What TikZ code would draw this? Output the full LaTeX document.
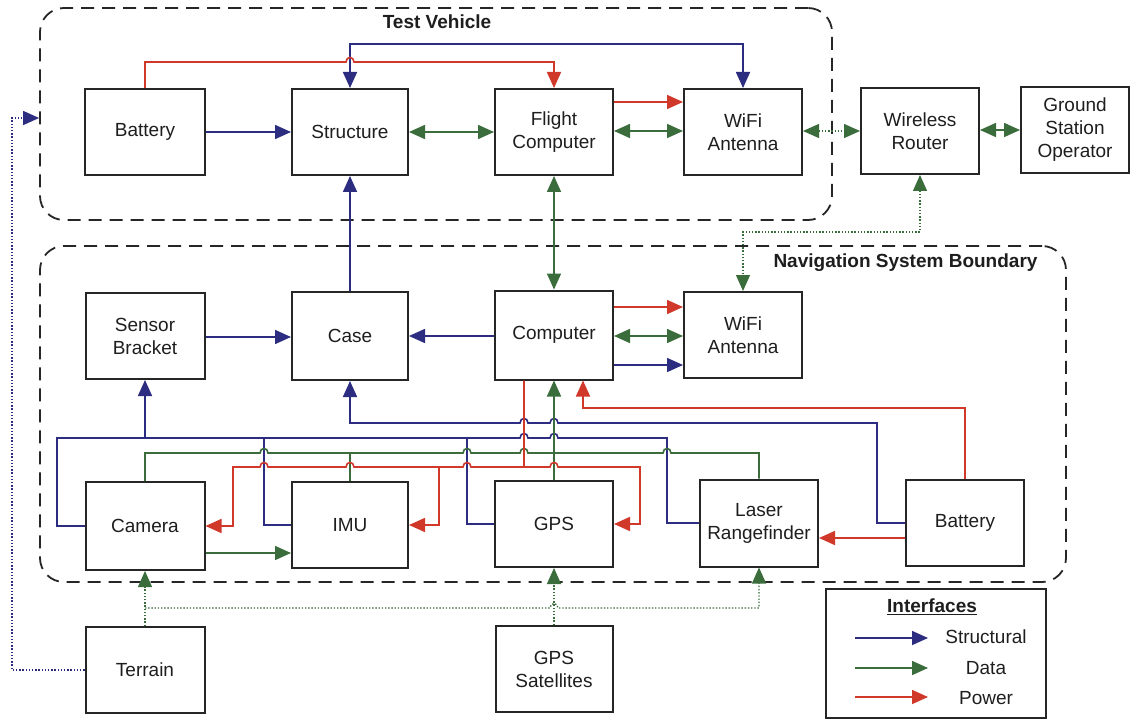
\documentclass[tikz,border=0pt]{standalone}
\usepackage{fontspec}
\setmainfont{Liberation Sans}
\usetikzlibrary{arrows.meta}
\definecolor{stc}{RGB}{44,44,128}
\definecolor{dtc}{RGB}{58,108,60}
\definecolor{pwc}{RGB}{208,56,42}
\definecolor{boxc}{RGB}{38,38,38}
\definecolor{txtc}{RGB}{30,30,30}
\begin{document}
\begin{tikzpicture}[x=1pt,y=-1pt,
  >={Triangle[length=16pt,width=14pt]},
  block/.style={draw=boxc,line width=2pt,fill=white,text=txtc,align=center,
    inner sep=0pt,minimum width=118pt,minimum height=86pt,
    font=\fontsize{19}{23}\selectfont},
  bound/.style={draw=boxc,line width=1.8pt,dash pattern=on 13pt off 8pt,
    rounded corners=24pt,inner sep=0pt},
  title/.style={text=txtc,font=\bfseries\fontsize{19}{23}\selectfont},
  label/.style={text=txtc,font=\fontsize{19}{23}\selectfont},
  st/.style={draw=stc,line width=1.6pt},
  dt/.style={draw=dtc,line width=1.6pt},
  pw/.style={draw=pwc,line width=1.6pt},
  dtdot/.style={dt,line width=1.3pt,dash pattern=on 1.4pt off 1.8pt},
  stdot/.style={st,line width=1.3pt,dash pattern=on 1.4pt off 1.8pt},
  % small bridge over a crossing vertical line, travelling right / left
  jumpr/.style args={#1/#2}{insert path={-- (#1-4,#2) .. controls (#1-4,#2-6) and (#1+4,#2-6) .. (#1+4,#2)}},
  jumpl/.style args={#1/#2}{insert path={-- (#1+4,#2) .. controls (#1+4,#2-6) and (#1-4,#2-6) .. (#1-4,#2)}},
]
\useasboundingbox (0,0) rectangle (1131,719);
\fill[white] (0,0) rectangle (1131,719);

% system boundaries
\node[bound,minimum width=792pt,minimum height=212pt] (tv) at (436,114) {};
\node[bound,minimum width=1026pt,minimum height=336pt] (nav) at (553,414) {};
\node[title] (tvt) at (437,22) {Test Vehicle};
\node[title,anchor=east] (navt) at (1041,263) {Navigation System Boundary};

% test vehicle
\node[block,minimum width=120pt] (bat1) at (145,132) {Battery};
\node[block,minimum width=116pt] (struct) at (350,132) {Structure};
\node[block] (fc) at (554,132) {Flight\\Computer};
\node[block] (wifi1) at (743,132) {WiFi\\Antenna};
\node[block] (router) at (920,131) {Wireless\\Router};
\node[block,minimum width=108pt] (gso) at (1075,130) {Ground\\Station\\Operator};

% navigation system
\node[block,minimum width=119pt] (sb) at (145,336) {Sensor\\Bracket};
\node[block,minimum width=116pt,minimum height=88pt] (case) at (350,336) {Case};
\node[block,minimum height=89pt] (comp) at (554,335) {Computer};
\node[block] (wifi2) at (743,335) {WiFi\\Antenna};
\node[block,minimum width=119pt,minimum height=88pt] (cam) at (145,526) {Camera};
\node[block,minimum width=116pt] (imu) at (350,525) {IMU};
\node[block] (gps) at (554,524) {GPS};
\node[block,minimum height=87pt] (laser) at (759,523) {Laser\\Rangefinder};
\node[block] (bat2) at (965,523) {Battery};

% environment
\node[block,minimum width=119pt] (terrain) at (145,670) {Terrain};
\node[block,minimum width=117pt] (gpssat) at (554,669) {GPS\\Satellites};

% --- test vehicle interfaces
\draw[st,->] (bat1.east) -- (struct.west);
\draw[dt,<->] (struct.east) -- (fc.west);
\draw[pw,->] (fc.east |- 0,102) -- (wifi1.west |- 0,102);
\draw[dt,<->] (fc.east |- 0,131) -- (wifi1.west |- 0,131);
\draw[dtdot,<->] (wifi1.east |- 0,131) -- (router.west |- 0,131);
\draw[dt,<->] (router.east |- 0,130) -- (gso.west |- 0,130);
\draw[st,<->] (struct.north) -- (350,44) -- (743,44) -- (wifi1.north);
\draw[pw,->] (bat1.north) -- (145,62) [jumpr=350/62] -- (554,62) -- (fc.north);
\draw[st,->] (case.north) -- (struct.south);
\draw[dt,<->] (fc.south) -- (comp.north);
\draw[dtdot,<->] (router.south) -- (920,232) -- (743,232) -- (wifi2.north);

% --- navigation system interfaces
\draw[st,->] (sb.east |- 0,337) -- (case.west |- 0,337);
\draw[st,->] (comp.west |- 0,336) -- (case.east |- 0,336);
\draw[pw,->] (comp.east |- 0,307) -- (wifi2.west |- 0,307);
\draw[dt,<->] (comp.east |- 0,336) -- (wifi2.west |- 0,336);
\draw[st,->] (comp.east |- 0,365) -- (wifi2.west |- 0,365);

% structural: battery to case
\draw[st,->] (bat2.west) -- (877,523) -- (877,423) [jumpl=554/423] [jumpl=524/423]
  -- (350,423) -- (case.south);
% structural: sensors to sensor bracket
\draw[st,->] (cam.west) -- (57,526) -- (57,438) -- (145,438) -- (sb.south);
\draw[st] (145,438) [jumpr=524/438] [jumpr=554/438] -- (667,438) -- (667,523) -- (laser.west);
\draw[st] (imu.west) -- (264,525) -- (264,438);
\draw[st] (gps.west) -- (467,524) -- (467,438);

% data: sensors to computer
\draw[dt] (cam.north) -- (145,453) [jumpr=264/453] [jumpr=467/453] [jumpr=524/453]
  [jumpr=667/453] -- (759,453) -- (laser.north);
\draw[dt] (imu.north) -- (350,453);
\draw[dt,->] (gps.north) -- (comp.south);
\draw[dt,->] (cam.east |- 0,553) -- (imu.west |- 0,553);

% power: computer to sensors
\draw[pw,->] (comp.south -| 524,0) -- (524,467) [jumpl=467/467] [jumpl=350/467]
  [jumpl=264/467] -- (233,467) -- (233,526) -- (cam.east);
\draw[pw,->] (439,467) -- (439,525) -- (imu.east);
\draw[pw,->] (524,467) [jumpr=554/467] -- (640,467) -- (640,524) -- (gps.east);
% power: battery
\draw[pw,->] (bat2.north) -- (965,408) -- (583,408) -- (comp.south -| 583,0);
\draw[pw,->] (bat2.west |- 0,538) -- (laser.east |- 0,538);

% --- environment interfaces
\draw[dtdot,->] (terrain.north) -- (cam.south);
\draw[dtdot,->] (145,608) [jumpr=554/608] -- (759,608) -- (laser.south);
\draw[dtdot,->] (gpssat.north) -- (gps.south);
\draw[stdot,->] (terrain.west) -- (12,670) -- (12,118) -- (tv.west |- 0,118);

% --- legend
\node[block,minimum width=220pt,minimum height=129pt] (leg) at (936,653) {};
\node[title] (legt) at (932,607) {\underline{Interfaces}};
\coordinate (ls1) at (855,638); \coordinate (le1) at (928,638);
\coordinate (ls2) at (855,668); \coordinate (le2) at (928,668);
\coordinate (ls3) at (855,697); \coordinate (le3) at (928,697);
\draw[st,->] (ls1) -- (le1);
\draw[dt,->] (ls2) -- (le2);
\draw[pw,->] (ls3) -- (le3);
\node[label] (lt1) at (986,637) {Structural};
\node[label] (lt2) at (986,668) {Data};
\node[label] (lt3) at (986,698) {Power};
\end{tikzpicture}
\end{document}
